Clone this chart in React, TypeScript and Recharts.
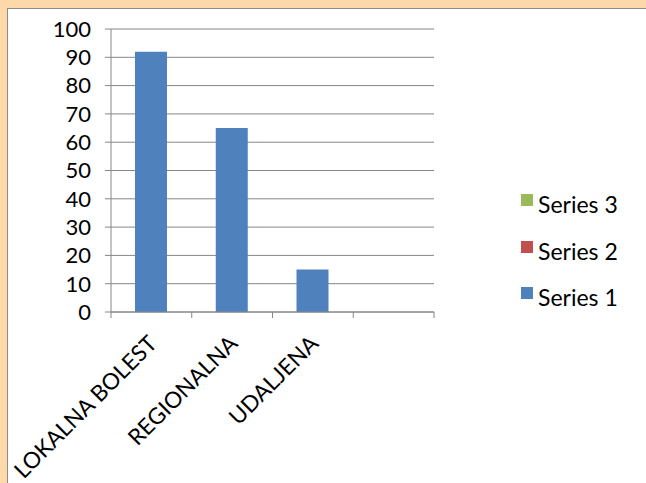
import React from 'react';
import { BarChart, Bar, XAxis, YAxis, CartesianGrid, Legend } from 'recharts';

const categories = ['LOKALNA BOLEST', 'REGIONALNA', 'UDALJENA', ''];
const series1 = [92, 65, 15, null];
const series2: (number | null)[] = [null, null, null, null];
const series3: (number | null)[] = [null, null, null, null];
const seriesNames = ['Series 1', 'Series 2', 'Series 3'];
const seriesColors = ['#4F81BD', '#C0504D', '#9BBB59'];
const yTicks = [0, 10, 20, 30, 40, 50, 60, 70, 80, 90, 100];

const data = categories.map((c, i) => ({
  name: c,
  s1: series1[i],
  s2: series2[i],
  s3: series3[i],
}));

const FONT = 'Lato, "Open Sans", sans-serif';
const GRID = '#868686';

const XTick = (props: any) => {
  const { x, y, payload, index, visibleTicksCount } = props;
  const off = payload && payload.offset != null ? payload.offset : 40.4;
  const axisY = y - 8;
  const count = visibleTicksCount ?? categories.length;
  const ax = x + 7;
  const ay = y + 25;
  return (
    <g>
      <line x1={x - off} y1={axisY} x2={x - off} y2={axisY + 6} stroke={GRID} strokeWidth={1} />
      {index === count - 1 && (
        <line x1={x + off} y1={axisY} x2={x + off} y2={axisY + 6} stroke={GRID} strokeWidth={1} />
      )}
      <text
        x={ax}
        y={ay}
        transform={`rotate(-45, ${ax}, ${ay})`}
        textAnchor="end"
        fontFamily={FONT}
        fontSize={22.5}
        fill="#000"
      >
        {payload.value}
      </text>
    </g>
  );
};

const LegendContent = () => {
  const order = [2, 1, 0];
  return (
    <div style={{ position: 'relative', width: 120, height: 140 }}>
      {order.map((si, row) => (
        <div
          key={si}
          style={{ position: 'absolute', left: 0, top: row * 46.5, display: 'flex', alignItems: 'flex-start' }}
        >
          <div style={{ width: 12, height: 12, background: seriesColors[si], marginTop: 0 }} />
          <div
            style={{
              marginLeft: 5,
              marginTop: -1,
              fontFamily: FONT,
              fontSize: 23,
              lineHeight: '23px',
              color: '#000',
              whiteSpace: 'nowrap',
            }}
          >
            {seriesNames[si]}
          </div>
        </div>
      ))}
    </div>
  );
};

export default function App() {
  return (
    <div style={{ position: 'absolute', left: 0, top: 0, width: 646, height: 483, background: '#FDD8A9', overflow: 'hidden' }}>
      <div
        style={{
          position: 'absolute',
          left: 7,
          top: 8,
          width: 646,
          height: 483,
          background: '#fff',
          borderTop: '1px solid #8C8C8C',
          borderLeft: '1px solid #8C8C8C',
        }}
      />
      <div style={{ position: 'absolute', left: 0, top: 0 }}>
        <BarChart
          width={646}
          height={483}
          data={data}
          margin={{ top: 29, right: 212, bottom: 141, left: 51 }}
          barSize={32}
        >
          <CartesianGrid vertical={false} stroke={GRID} strokeWidth={1} />
          <XAxis
            dataKey="name"
            height={30}
            interval={0}
            axisLine={{ stroke: GRID }}
            tickLine={false}
            tick={<XTick />}
          />
          <YAxis
            width={60}
            domain={[0, 100]}
            ticks={yTicks}
            interval={0}
            axisLine={{ stroke: GRID }}
            tickLine={{ stroke: GRID }}
            tickSize={6}
            tickMargin={14}
            tick={{ fill: '#000', fontFamily: FONT, fontSize: 22 }}
          />
          <Legend
            layout="vertical"
            align="center"
            verticalAlign="middle"
            content={<LegendContent />}
            wrapperStyle={{ position: 'absolute', left: 521, top: 194, width: 120, height: 140 }}
          />
          <Bar dataKey="s1" name={seriesNames[0]} fill={seriesColors[0]} isAnimationActive={false} />
        </BarChart>
      </div>
    </div>
  );
}
